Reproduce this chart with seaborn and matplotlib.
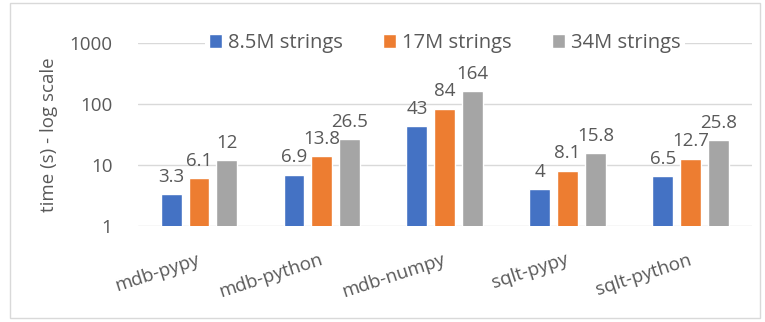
import matplotlib
matplotlib.use("Agg")
import matplotlib.pyplot as plt
import seaborn as sns
import pandas as pd
from matplotlib.patches import Rectangle
from matplotlib.ticker import FixedLocator, NullLocator, FixedFormatter

categories = ["mdb-pypy", "mdb-python", "mdb-numpy", "sqlt-pypy", "sqlt-python"]
series_names = ["8.5M strings", "17M strings", "34M strings"]
s_8_5m = [3.3, 6.9, 43, 4, 6.5]
s_17m = [6.1, 13.8, 84, 8.1, 12.7]
s_34m = [12, 26.5, 164, 15.8, 25.8]
label_8_5m = ["3.3", "6.9", "43", "4", "6.5"]
label_17m = ["6.1", "13.8", "84", "8.1", "12.7"]
label_34m = ["12", "26.5", "164", "15.8", "25.8"]
y_ticks = [1, 10, 100, 1000]
y_tick_labels = ["1", "10", "100", "1000"]

colors = ["#4472C4", "#ED7D31", "#A5A5A5"]
text_color = "#595959"
FS = 13.5

rows = []
for name, vals in zip(series_names, [s_8_5m, s_17m, s_34m]):
    for c, v in zip(categories, vals):
        rows.append({"cat": c, "series": name, "value": v})
df = pd.DataFrame(rows)

sns.set_theme(style="white")
plt.rcParams["font.family"] = ["Open Sans", "DejaVu Sans"]

fig = plt.figure(figsize=(7.65, 3.22), dpi=100)
ax = fig.add_axes([137.5 / 765, 1 - 226 / 322, (752 - 137.5) / 765, (226 - 43) / 322])

sns.barplot(data=df, x="cat", y="value", hue="series", order=categories,
            hue_order=series_names, palette=colors, width=0.68, gap=0.25,
            saturation=1, ax=ax, legend=True, zorder=3)

ax.set_yscale("log")
ax.set_ylim(1, 1000)
ax.set_xlim(-0.5, len(categories) - 0.5)
ax.yaxis.set_major_locator(FixedLocator(y_ticks))
ax.yaxis.set_major_formatter(FixedFormatter(y_tick_labels))
ax.yaxis.set_minor_locator(NullLocator())
ax.grid(axis="y", color="#D9D9D9", linewidth=1, zorder=0)
ax.set_axisbelow(True)
for s in ax.spines.values():
    s.set_visible(False)
ax.tick_params(axis="both", length=0, colors=text_color, labelsize=FS)
ax.tick_params(axis="y", pad=18)
ax.set_xlabel("")
ax.set_ylabel("time (s) - log scale", color=text_color, fontsize=FS, labelpad=8)

for lab in ax.get_xticklabels():
    lab.set_rotation(18)
    lab.set_ha("right")
    lab.set_rotation_mode("anchor")
    lab.set_color(text_color)
ax.tick_params(axis="x", pad=24)
for lab in ax.get_xticklabels():
    lab.set_va("center")

# data labels
all_labels = [label_8_5m, label_17m, label_34m]
for cont, labs in zip(ax.containers, all_labels):
    ax.bar_label(cont, labels=labs, padding=6, color=text_color, fontsize=FS)

leg = ax.legend(loc="center", bbox_to_anchor=(0.5, 1.0), ncol=3, frameon=True,
                facecolor="white", edgecolor="white", framealpha=1,
                fontsize=14.5, handlelength=0.65, handleheight=0.65,
                handletextpad=0.3, columnspacing=2.0, borderpad=0.2,
                borderaxespad=0)
for t in leg.get_texts():
    t.set_color(text_color)
leg.get_frame().set_linewidth(0)

fig.patches.append(Rectangle((10 / 765, 1 - 318 / 322), 750 / 765, 315 / 322,
                             transform=fig.transFigure, fill=False,
                             edgecolor="#D9D9D9", linewidth=1))

fig.savefig("out.png", dpi=100)
